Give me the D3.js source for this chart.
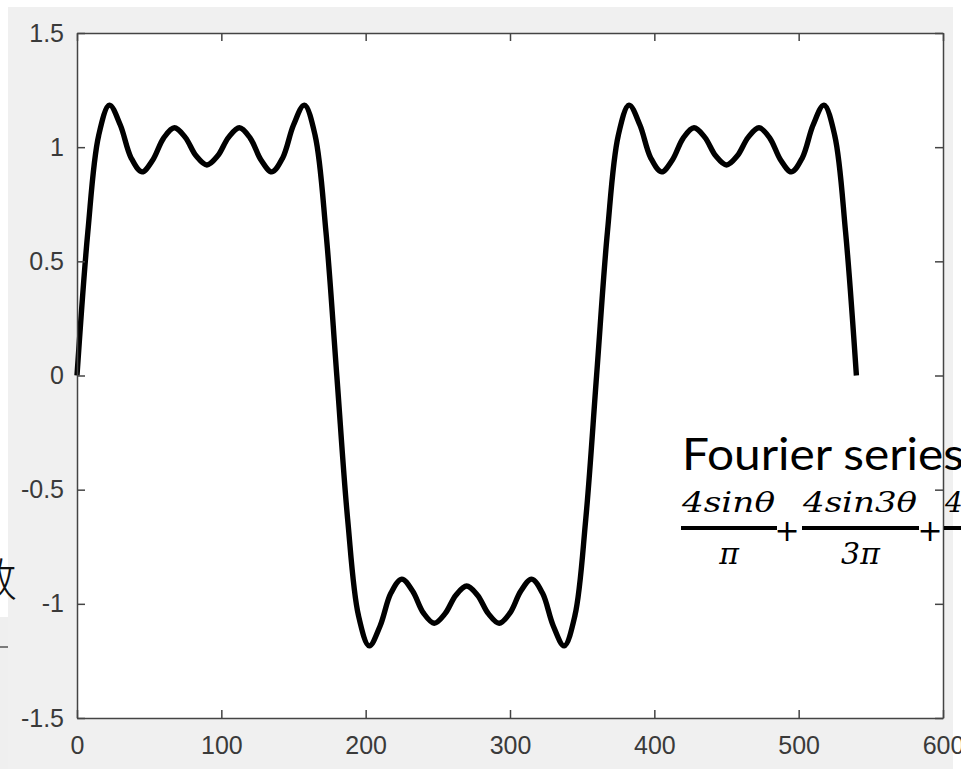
<!DOCTYPE html>
<meta charset="utf-8">
<style>
body { margin: 0; background: #fff; }
.axis text { font-family: "Liberation Sans", Arial, sans-serif; font-size: 25px; fill: #3a3a3a; }
</style>
<svg width="961" height="769"></svg>
<script src="https://d3js.org/d3.v7.min.js"></script>
<script>

// theta in degrees
var thetaDeg = [0, 7.5, 15, 22.5, 30, 37.5, 45, 52.5, 60, 67.5, 75, 82.5, 90,
  97.5, 105, 112.5, 120, 127.5, 135, 142.5, 150, 157.5, 165, 172.5, 180,
  187.5, 195, 202.5, 210, 217.5, 225, 232.5, 240, 247.5, 255, 262.5, 270,
  277.5, 285, 292.5, 300, 307.5, 315, 322.5, 330, 337.5, 345, 352.5, 360,
  367.5, 375, 382.5, 390, 397.5, 405, 412.5, 420, 427.5, 435, 442.5, 450,
  457.5, 465, 472.5, 480, 487.5, 495, 502.5, 510, 517.5, 525, 532.5, 540];

var fourierSum = [0, 0.628, 1.051, 1.184, 1.097, 0.953, 0.892, 0.944, 1.040, 1.085, 1.043, 0.962, 0.922,
  0.962, 1.043, 1.085, 1.040, 0.944, 0.892, 0.953, 1.097, 1.184, 1.051, 0.628, 0,
  -0.628, -1.051, -1.184, -1.097, -0.953, -0.892, -0.944, -1.040, -1.085, -1.043, -0.962, -0.922,
  -0.962, -1.043, -1.085, -1.040, -0.944, -0.892, -0.953, -1.097, -1.184, -1.051, -0.628, 0,
  0.628, 1.051, 1.184, 1.097, 0.953, 0.892, 0.944, 1.040, 1.085, 1.043, 0.962, 0.922,
  0.962, 1.043, 1.085, 1.040, 0.944, 0.892, 0.953, 1.097, 1.184, 1.051, 0.628, 0];

var xTicks = [0, 100, 200, 300, 400, 500, 600];
var yTicks = [-1.5, -1, -0.5, 0, 0.5, 1, 1.5];

var svg = d3.select("svg"),
    margin = {top: 33, right: 18, bottom: 51, left: 77},
    width = +svg.attr("width") - margin.left - margin.right,
    height = +svg.attr("height") - margin.top - margin.bottom;

// figure background (grey window, white strip at left/top)
svg.append("rect").attr("x", 8).attr("y", 7).attr("width", 945).attr("height", 762).attr("fill", "#f0f0f0");
svg.append("rect").attr("x", 0).attr("y", 617).attr("width", 8).attr("height", 152).attr("fill", "#efefef");
svg.append("line").attr("x1", 0).attr("x2", 8).attr("y1", 647).attr("y2", 647)
    .attr("stroke", "#555").attr("stroke-width", 1.5);
svg.append("text")
    .attr("x", -29).attr("y", 596)
    .attr("font-family", "Noto Sans CJK SC")
    .attr("font-weight", 300)
    .attr("font-size", 46)
    .attr("fill", "#111")
    .text("数");

var x = d3.scaleLinear().domain([0, 600]).range([0, width]),
    y = d3.scaleLinear().domain([-1.5, 1.5]).range([height, 0]);

var g = svg.append("g")
    .attr("transform", "translate(" + margin.left + "," + margin.top + ")");

g.append("rect").attr("width", width).attr("height", height).attr("fill", "#fff");

var line = d3.line()
    .x(function(d, i) { return x(thetaDeg[i]); })
    .y(function(d) { return y(d); })
    .curve(d3.curveCatmullRom.alpha(0.5));

g.append("path")
    .datum(fourierSum)
    .attr("fill", "none")
    .attr("stroke", "#000")
    .attr("stroke-width", 5.4)
    .attr("stroke-linejoin", "round")
    .attr("d", line);

// annotation text
var note = svg.append("g");
note.append("text")
    .attr("x", 682).attr("y", 470)
    .attr("font-family", "Lato, 'Open Sans', sans-serif")
    .attr("font-size", 44)
    .attr("fill", "#000")
    .attr("textLength", 282).attr("lengthAdjust", "spacingAndGlyphs")
    .text("Fourier series");

var fracs = [
  {num: "4sin\u03b8", den: "\u03c0", x0: 681, x1: 777},
  {num: "4sin3\u03b8", den: "3\u03c0", x0: 802, x1: 919},
  {num: "4", den: "", x0: 944, x1: 1060}
];
fracs.forEach(function(f) {
  note.append("line").attr("x1", f.x0).attr("x2", f.x1).attr("y1", 528).attr("y2", 528)
      .attr("stroke", "#000").attr("stroke-width", 4);
  var t = note.append("text")
      .attr("x", f.x0 + 1).attr("y", 512)
      .attr("font-family", "'DejaVu Serif', serif")
      .attr("font-style", "italic")
      .attr("font-size", 28)
      .attr("fill", "#000")
      .text(f.num);
  if (f.num.length > 1) t.attr("textLength", f.x1 - f.x0 - 3).attr("lengthAdjust", "spacingAndGlyphs");
  note.append("text")
      .attr("x", (f.x0 + f.x1) / 2).attr("y", 564)
      .attr("text-anchor", "middle")
      .attr("font-family", "'DejaVu Serif', serif")
      .attr("font-style", "italic")
      .attr("font-size", 30)
      .attr("fill", "#000")
      .text(f.den);
});
[787, 930].forEach(function(px) {
  note.append("text")
      .attr("x", px).attr("y", 541)
      .attr("text-anchor", "middle")
      .attr("font-family", "'DejaVu Sans', sans-serif")
      .attr("font-size", 30)
      .attr("fill", "#000")
      .text("+");
});

// axes box, MATLAB style ticks pointing inward
var axisColor = "#444",
    plain = function(d) { return String(d); };
g.append("g")
    .attr("class", "axis")
    .attr("transform", "translate(0," + height + ")")
    .call(d3.axisBottom(x).tickValues(xTicks).tickFormat(plain).tickSizeInner(-8).tickSizeOuter(0).tickPadding(18));
g.append("g")
    .attr("class", "axis")
    .call(d3.axisTop(x).tickValues(xTicks).tickSizeInner(-8).tickSizeOuter(0).tickFormat(""));
g.append("g")
    .attr("class", "axis")
    .call(d3.axisLeft(y).tickValues(yTicks).tickFormat(plain).tickSizeInner(-8).tickSizeOuter(0).tickPadding(13));
g.append("g")
    .attr("class", "axis")
    .attr("transform", "translate(" + width + ",0)")
    .call(d3.axisRight(y).tickValues(yTicks).tickSizeInner(-8).tickSizeOuter(0).tickFormat(""));

g.selectAll(".axis path, .axis line")
    .attr("stroke", axisColor)
    .attr("stroke-width", 1.5);

</script>
